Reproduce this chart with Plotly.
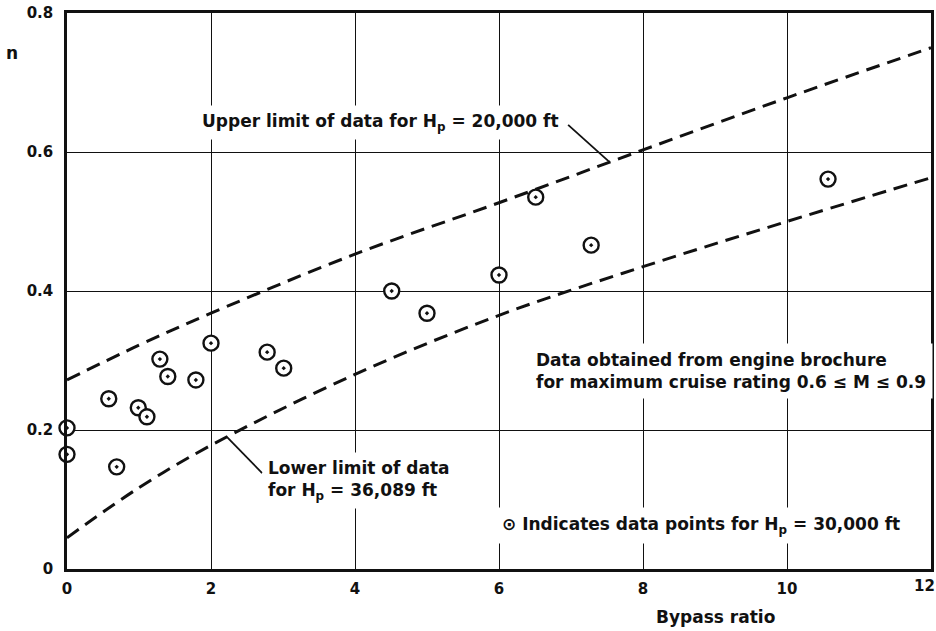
import plotly.graph_objects as go

# data points for Hp = 30,000 ft
bypass_pts = [0.0, 0.0, 0.58, 0.69, 0.99, 1.11, 1.29, 1.40, 1.79, 2.0, 2.78, 3.01,
              4.51, 5.0, 6.0, 6.51, 7.28, 10.57]
n_pts = [0.203, 0.165, 0.245, 0.147, 0.232, 0.219, 0.302, 0.277, 0.272, 0.325, 0.312, 0.289,
         0.400, 0.368, 0.423, 0.535, 0.466, 0.561]

# upper limit curve (Hp = 20,000 ft)
upper_x = [0, 1, 2, 4, 6, 8, 10, 12]
upper_n = [0.272, 0.322, 0.368, 0.453, 0.527, 0.603, 0.678, 0.750]

# lower limit curve (Hp = 36,089 ft)
lower_x = [0, 1, 2, 4, 6, 8, 10, 12]
lower_n = [0.045, 0.117, 0.178, 0.280, 0.365, 0.435, 0.500, 0.563]

x_ticks = [0, 2, 4, 6, 8, 10, 12]
x_tick_text = ["0", "2", "4", "6", "8", "10", ""]   # last label drawn separately (edge)
last_x_label = "12"
y_ticks = [0, 0.2, 0.4, 0.6, 0.8]
y_tick_text = ["0", "0.2", "0.4", "0.6", "0.8"]

FONT = "DejaVu Sans"
INK = "#111111"

fig = go.Figure()

dash_style = "14px,8px"
fig.add_trace(go.Scatter(x=upper_x, y=upper_n, mode="lines",
                         line=dict(color=INK, width=3, dash=dash_style, shape="spline"),
                         hoverinfo="skip", showlegend=False))
fig.add_trace(go.Scatter(x=lower_x, y=lower_n, mode="lines",
                         line=dict(color=INK, width=3, dash=dash_style, shape="spline"),
                         hoverinfo="skip", showlegend=False))
fig.add_trace(go.Scatter(x=bypass_pts, y=n_pts, mode="markers",
                         marker=dict(symbol="circle-dot", size=15, color="white",
                                     line=dict(color=INK, width=2.4)),
                         showlegend=False, cliponaxis=False))

tick_font = dict(family=FONT, size=15, color=INK, weight="bold")
axis_common = dict(showline=True, linewidth=2.5, linecolor=INK, mirror=True,
                   showgrid=True, gridcolor=INK, gridwidth=1.3, zeroline=False,
                   ticks="", automargin=False, tickfont=tick_font)

fig.update_xaxes(range=[0, 12], tickvals=x_ticks, ticktext=x_tick_text,
                 ticklabelstandoff=4, **axis_common)
fig.update_yaxes(range=[0, 0.8], tickvals=y_ticks, ticktext=y_tick_text,
                 ticklabelstandoff=8, **axis_common)

ann_font = dict(family=FONT, size=17, color=INK, weight="bold")
annotations = [
    dict(x=1.79, y=0.643, xref="x", yref="y", xanchor="left", yanchor="middle",
         text="Upper limit of data for H<sub>p</sub> = 20,000 ft", showarrow=False,
         font=ann_font, bgcolor="white", borderpad=5),
    dict(x=2.71, y=0.128, xref="x", yref="y", xanchor="left", yanchor="middle", align="left",
         text="Lower limit of data<br>for H<sub>p</sub> = 36,089 ft", showarrow=False,
         font=ann_font, bgcolor="white", borderpad=5),
    dict(x=6.42, y=0.285, xref="x", yref="y", xanchor="left", yanchor="middle", align="left",
         text="Data obtained from engine brochure<br>for maximum cruise rating 0.6 ≤ M ≤ 0.9",
         showarrow=False, font=ann_font, bgcolor="white", borderpad=6),
    dict(x=5.94, y=0.063, xref="x", yref="y", xanchor="left", yanchor="middle",
         text="⊙ Indicates data points for H<sub>p</sub> = 30,000 ft", showarrow=False,
         font=ann_font, bgcolor="white", borderpad=6),
    dict(x=0.993, y=-0.031, xref="paper", yref="paper", xanchor="center", yanchor="middle",
         text=last_x_label, showarrow=False, font=tick_font),
    dict(x=0.75, y=-0.086, xref="paper", yref="paper", xanchor="center", yanchor="middle",
         text="Bypass ratio", showarrow=False,
         font=dict(family=FONT, size=17, color=INK, weight="bold")),
    dict(x=-0.064, y=0.928, xref="paper", yref="paper", xanchor="center", yanchor="middle",
         text="n", showarrow=False,
         font=dict(family=FONT, size=17, color=INK, weight="bold")),
]

shapes = [
    dict(type="line", xref="x", yref="y", x0=6.96, y0=0.639, x1=7.54, y1=0.585,
         line=dict(color=INK, width=1.8)),
    dict(type="line", xref="x", yref="y", x0=2.22, y0=0.190, x1=2.71, y1=0.138,
         line=dict(color=INK, width=1.8)),
]

fig.update_layout(width=936, height=631, margin=dict(l=67, r=5, t=13, b=62),
                  paper_bgcolor="white", plot_bgcolor="white",
                  annotations=annotations, shapes=shapes, showlegend=False,
                  font=dict(family=FONT, color=INK))

fig.write_html("out.html", config={"displayModeBar": False},
               post_script="document.body.style.margin='0';document.body.style.overflow='hidden';")
